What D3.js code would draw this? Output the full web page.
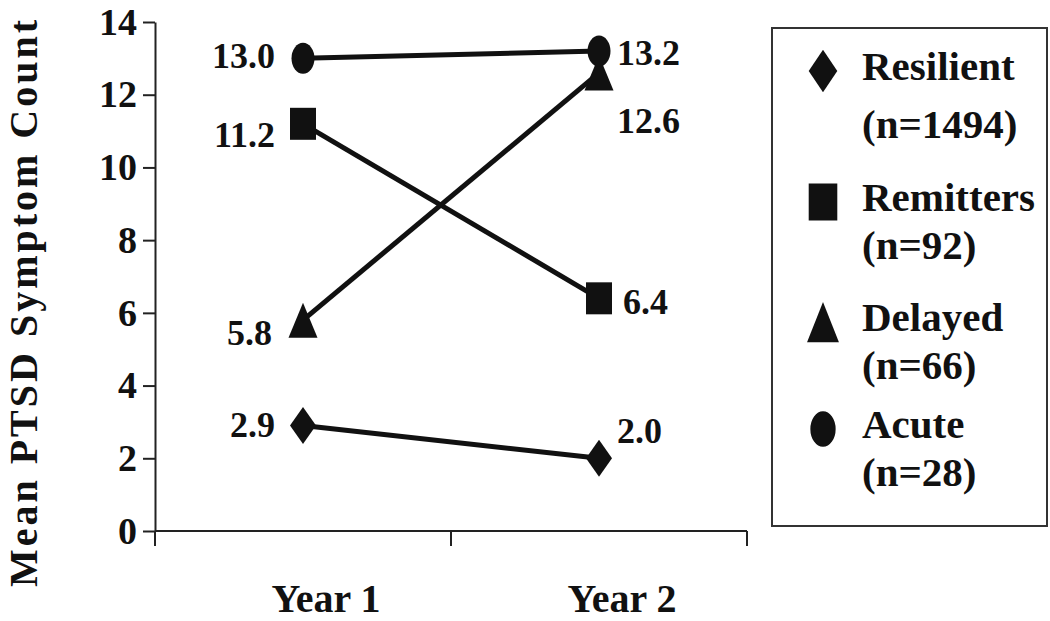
<!DOCTYPE html>
<html lang="en">
<head>
    <meta charset="UTF-8">
    <title>PTSD trajectories</title>
    <style>
        body { margin: 0; background: #fff; }
        text { font-family: "Liberation Serif", "Times New Roman", serif; font-weight: bold; fill: #111; }
    </style>
</head>
<body>
    <script src="https://d3js.org/d3.v7.min.js"></script>
    <script>
        // data
        const years = ["Year 1", "Year 2"];
        const groups = ["Resilient", "Remitters", "Delayed", "Acute"];
        const groupN = [1494, 92, 66, 28];
        const resilient = [2.9, 2.0];
        const remitters = [11.2, 6.4];
        const delayed = [5.8, 12.6];
        const acute = [13.0, 13.2];
        const yTicks = [0, 2, 4, 6, 8, 10, 12, 14];

        const seriesValues = [resilient, remitters, delayed, acute];
        const shapes = ["diamond", "square", "triangle", "circle"];

        // label nudges (dx, dy) per series per year, in px
        const labelNudge = [
            [[-28, 11], [18, -15]],
            [[-28, 23], [24, 16]],
            [[-31, 25], [18, 60]],
            [[-28, 10], [18, 14]]
        ];

        const width = 1050,
              height = 621;

        var svg = d3.select('body')
                    .append('svg')
                    .attr('width', width)
                    .attr('height', height);

        var x = d3.scaleBand().domain(years).range([155, 747]);
        var y = d3.scaleLinear().domain([0, 14]).range([531, 22]);
        var cx = d => x(d) + x.bandwidth() / 2;

        // marker path, w x h box centred on 0,0 (figure is stretched vertically)
        function marker(shape, w, h) {
            var a = w / 2, b = h / 2;
            if (shape == "diamond") return `M0,${-b}L${a},0L0,${b}L${-a},0Z`;
            if (shape == "square") return `M${-a},${-b}H${a}V${b}H${-a}Z`;
            if (shape == "triangle") return `M0,${-b}L${a},${b}L${-a},${b}Z`;
            return `M${-a},0A${a},${b} 0 1,0 ${a},0A${a},${b} 0 1,0 ${-a},0Z`;
        }
        const markerSize = { diamond: [26, 37], square: [26, 32], triangle: [29, 35], circle: [23, 31] };

        // y axis
        var yAxis = svg.append('g')
            .attr('transform', 'translate(155,0)')
            .call(d3.axisLeft(y).tickValues(yTicks).tickSize(12).tickSizeOuter(0).tickPadding(6));
        yAxis.select('.domain').attr('stroke', '#222').attr('stroke-width', 2);
        yAxis.selectAll('.tick line').attr('stroke', '#222').attr('stroke-width', 2);
        yAxis.selectAll('.tick text')
            .attr('font-family', '"Liberation Serif", serif')
            .attr('font-weight', 'bold')
            .attr('font-size', 38)
            .attr('fill', '#111');

        // x axis: line with ticks on band edges
        var xr = x.range();
        svg.append('line')
            .attr('x1', xr[0]).attr('x2', xr[1])
            .attr('y1', y(0)).attr('y2', y(0))
            .attr('stroke', '#222').attr('stroke-width', 2);
        var edges = [xr[0]].concat(years.map(d => x(d) + x.bandwidth()));
        svg.selectAll('.xtick')
            .data(edges)
            .enter()
            .append('line')
            .attr('class', 'xtick')
            .attr('x1', d => d).attr('x2', d => d)
            .attr('y1', y(0)).attr('y2', y(0) + 15)
            .attr('stroke', '#222').attr('stroke-width', 2);
        svg.selectAll('.xlabel')
            .data(years)
            .enter()
            .append('text')
            .attr('class', 'xlabel')
            .attr('x', d => cx(d) + 23)
            .attr('y', 612)
            .attr('text-anchor', 'middle')
            .attr('font-size', 40)
            .text(d => d);

        // y title
        svg.append('text')
            .attr('transform', 'translate(37,302) rotate(-90)')
            .attr('text-anchor', 'middle')
            .attr('font-size', 40)
            .attr('letter-spacing', 3)
            .text('Mean PTSD Symptom Count');

        // lines
        var line = d3.line()
            .x((d, i) => cx(years[i]))
            .y(d => y(d));
        svg.selectAll('.series')
            .data(seriesValues)
            .enter()
            .append('path')
            .attr('class', 'series')
            .attr('d', d => line(d))
            .attr('fill', 'none')
            .attr('stroke', '#111')
            .attr('stroke-width', 5);

        // markers and value labels
        seriesValues.forEach(function(vals, s) {
            var sz = markerSize[shapes[s]];
            svg.selectAll('.m' + s)
                .data(vals)
                .enter()
                .append('path')
                .attr('class', 'm' + s)
                .attr('transform', (d, i) => `translate(${cx(years[i])},${y(d)})`)
                .attr('d', marker(shapes[s], sz[0], sz[1]))
                .attr('fill', '#111');
            svg.selectAll('.v' + s)
                .data(vals)
                .enter()
                .append('text')
                .attr('class', 'v' + s)
                .attr('x', (d, i) => cx(years[i]) + labelNudge[s][i][0])
                .attr('y', (d, i) => y(d) + labelNudge[s][i][1])
                .attr('text-anchor', (d, i) => i == 0 ? 'end' : 'start')
                .attr('font-size', 36)
                .text(d => d.toFixed(1));
        });

        // legend
        const legendY = [80, 211, 331, 438];
        var legend = svg.append('g');
        legend.append('rect')
            .attr('x', 772).attr('y', 28)
            .attr('width', 275).attr('height', 498)
            .attr('fill', 'none')
            .attr('stroke', '#333')
            .attr('stroke-width', 2);
        var items = legend.selectAll('.item')
            .data(groups)
            .enter()
            .append('g')
            .attr('class', 'item')
            .attr('transform', (d, i) => `translate(0,${legendY[i]})`);
        items.append('path')
            .attr('transform', 'translate(823,-9)')
            .attr('d', (d, i) => {
                var sz = markerSize[shapes[i]];
                return marker(shapes[i], sz[0] * 1.1, sz[1] * 1.15);
            })
            .attr('fill', '#111');
        items.append('text')
            .attr('x', 862)
            .attr('font-size', 41)
            .text(d => d);
        items.append('text')
            .attr('x', 862)
            .attr('y', (d, i) => i == 0 ? 58 : 48)
            .attr('font-size', 41)
            .text((d, i) => `(n=${groupN[i]})`);
    </script>
</body>
</html>
